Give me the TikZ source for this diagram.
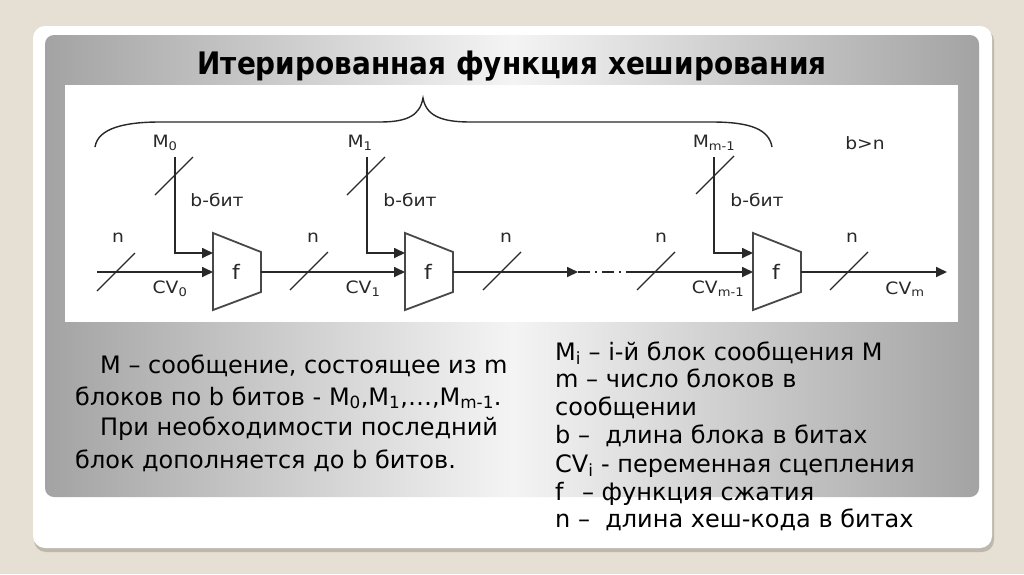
\documentclass[tikz,border=0pt]{standalone}
\usepackage{fontspec}
\setmainfont{DejaVu Sans}
\newfontfamily\titlefont{DejaVu Sans}[FakeStretch=0.9]
\newfontfamily\diagfont{DejaVu Sans}[FakeStretch=1.1]
\usetikzlibrary{arrows.meta,calc}
\definecolor{bgbeige}{RGB}{229,223,212}
\definecolor{shadowc}{RGB}{190,184,172}
\definecolor{paneledge}{RGB}{163,163,163}
\definecolor{panelmid}{RGB}{244,244,244}
\definecolor{ink}{RGB}{40,40,40}
\begin{document}
\begin{tikzpicture}[x=1pt,y=-1pt,
  wire/.style={draw=ink, line width=1.7pt},
  arr/.style={wire, -{Triangle[length=11pt,width=10pt]}},
  slashmark/.style={draw=ink, line width=1.2pt},
  lbl/.style={font=\diagfont\fontsize{17}{19}\selectfont, text=ink, inner sep=0pt},
  fblock/.style={draw=ink!85, line width=1.8pt, fill=white, line join=miter},
  body/.style={font=\fontsize{24}{28}\selectfont, anchor=base west, inner sep=0pt},
  bracec/.style={draw=ink, line width=1.4pt}]
\useasboundingbox (0,0) rectangle (1024,574);
% background and frames
\fill[bgbeige] (0,0) rectangle (1024,574);
\fill[shadowc, rounded corners=12pt] (34,29) rectangle (994,552);
\fill[white, rounded corners=12pt] (33,26) rectangle (992,548);
\shade[left color=paneledge, right color=paneledge, middle color=panelmid, rounded corners=9pt] (45,35) rectangle (979,497);
\fill[white] (65,85) rectangle (958,322);
% title
\node[font=\titlefont\bfseries\fontsize{31}{36}\selectfont, anchor=base, inner sep=0pt] (title) at (512,74) {Итерированная функция хеширования};
% brace
\draw[bracec] (95,147) .. controls (98,128) and (125,122) .. (160,122) -- (380,122)
  .. controls (408,122) and (420,115) .. (423,98)
  .. controls (426,115) and (440,122) .. (470,122) -- (712,122)
  .. controls (752,122) and (769,130) .. (772,147);
% compression blocks
\foreach \L/\n in {213/0,405/1,753/2}{
  \draw[fblock] (\L,233) -- (\L+48,252) -- (\L+48,292) -- (\L,310) -- cycle;
  \node[font=\diagfont\fontsize{20}{22}\selectfont, text=ink, inner sep=0pt] (f\n) at (\L+23,272) {f};
  \coordinate (in\n) at (\L,272);
  \coordinate (min\n) at (\L,253);
  \coordinate (out\n) at (\L+48,272);
}
\coordinate (mtop0) at (175,157);
\coordinate (mtop1) at (367,157);
\coordinate (mtop2) at (714,157);
\coordinate (start) at (97,272);
\coordinate (dd1) at (578,272);
\coordinate (dd2) at (638,272);
\coordinate (finish) at (947,272);
% connectors
\draw[arr] (start) -- (in0);
\draw[arr] (out0) -- (in1);
\draw[arr] (out1) -- (dd1);
\draw[wire, dash pattern=on 12pt off 5pt on 2pt off 5pt] (dd1) -- (dd2);
\draw[arr] (dd2) -- (in2);
\draw[arr] (out2) -- (finish);
\draw[arr] (mtop0) |- (min0);
\draw[arr] (mtop1) |- (min1);
\draw[arr] (mtop2) |- (min2);
% slash marks
\foreach \cx/\cy in {116/272,309/271,502/271,656/271,849/271,174/176,366/176,715/175}{
  \draw[slashmark] (\cx-19,\cy+19) -- (\cx+19,\cy-19);
}
% diagram labels
\node[lbl] (M0) at (165,143) {M\textsubscript{0}};
\node[lbl] (M1) at (360,143) {M\textsubscript{1}};
\node[lbl] (M2) at (714,143) {M\textsubscript{m-1}};
\node[lbl] (bn) at (865,143) {b>n};
\node[lbl] (bb0) at (217,200) {b-бит};
\node[lbl] (bb1) at (410,200) {b-бит};
\node[lbl] (bb2) at (757,200) {b-бит};
\node[lbl] (n0) at (118,238) {n};
\node[lbl] (n1) at (313,238) {n};
\node[lbl] (n2) at (506,238) {n};
\node[lbl] (n3) at (661,238) {n};
\node[lbl] (n4) at (852,238) {n};
\node[lbl] (cv0) at (170,289) {CV\textsubscript{0}};
\node[lbl] (cv1) at (363,289) {CV\textsubscript{1}};
\node[lbl] (cv2) at (718,289) {CV\textsubscript{m-1}};
\node[lbl] (cv3) at (905,289) {CV\textsubscript{m}};
% body text left
\node[body] (p1) at (100,373) {M – сообщение, состоящее из m};
\node[body] (p2) at (75,405) {блоков по b битов - M\textsubscript{0},M\textsubscript{1},…,M\textsubscript{m-1}.};
\node[body] (p3) at (100,435) {При необходимости последний};
\node[body] (p4) at (75,468) {блок дополняется до b битов.};
% body text right
\node[body] (r1) at (555,360) {M\textsubscript{i} – i-й блок сообщения M};
\node[body] (r2) at (555,387) {m – число блоков в};
\node[body] (r3) at (555,415) {сообщении};
\node[body] (r4) at (555,443) {b –\ \ длина блока в битах};
\node[body] (r5) at (555,472) {CV\textsubscript{i} - переменная сцепления};
\node[body] (r6) at (555,500) {f\hspace{0.45em} – функция сжатия};
\node[body] (r7) at (555,527) {n –\ \ длина хеш-кода в битах};
\end{tikzpicture}
\end{document}
